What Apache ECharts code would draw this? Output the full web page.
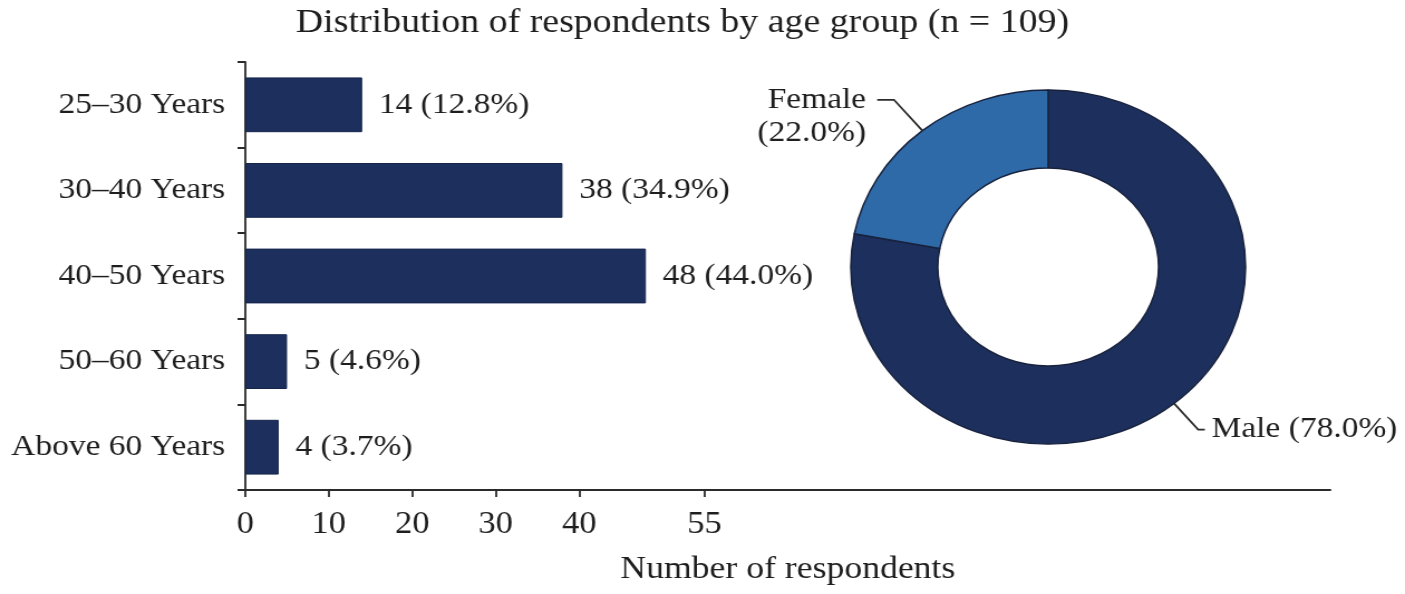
<!DOCTYPE html>
<html>
<head>
<meta charset="utf-8">
<script src="https://cdn.jsdelivr.net/npm/echarts@6/dist/echarts.min.js"></script>
<style>
  html, body { margin: 0; padding: 0; background: #fff; overflow: hidden; }
  /* The figure is laid out on a 1260px-wide canvas and widened to fill the 1405px page */
  #chart { width: 1260px; height: 594px; transform: scaleX(1.11508); transform-origin: 0 0; }
</style>
</head>
<body>
<div id="chart"></div>
<script>
// Age groups (bar chart)
const ageGroups = ['25–30 Years', '30–40 Years', '40–50 Years', '50–60 Years', 'Above 60 Years'];
const ageCounts = [14, 38, 48, 5, 4];
const agePercents = [12.8, 34.9, 44.0, 4.6, 3.7];
const xTickValues = [0, 10, 20, 30, 40, 55];

// Gender split (donut)
const genderNames = ['Male', 'Female'];
const genderPercents = [78.0, 22.0];

const FONT = '"Liberation Serif", "Times New Roman", serif';
const TEXT = '#1e1e1e';
const AXIS = '#2b2b2b';
const NAVY = '#1d305d';
const BLUE = '#2f6aa8';

const chart = echarts.init(document.getElementById('chart'), null, { renderer: 'canvas' });

chart.setOption({
  backgroundColor: '#ffffff',
  animation: false,
  textStyle: { fontFamily: FONT, color: TEXT },
  title: {
    text: 'Distribution of respondents by age group (n = 109)',
    left: 612,
    textAlign: 'center',
    top: 6,
    padding: 0,
    textStyle: { fontFamily: FONT, fontSize: 34, fontWeight: 'normal', color: TEXT }
  },
  grid: { left: 220, right: 67, top: 62, bottom: 104 },
  xAxis: {
    type: 'value',
    min: 0,
    max: 130,
    splitLine: { show: false },
    axisLine: { show: true, lineStyle: { color: AXIS, width: 2 } },
    axisTick: { show: true, customValues: xTickValues, length: 7, lineStyle: { color: AXIS, width: 1.8 } },
    axisLabel: { customValues: xTickValues, fontSize: 31, margin: 19, color: TEXT, fontFamily: FONT },
    name: 'Number of respondents',
    nameLocation: 'middle',
    nameGap: 64,
    nameTextStyle: { fontSize: 32, color: TEXT, fontFamily: FONT }
  },
  yAxis: {
    type: 'category',
    data: ageGroups,
    inverse: true,
    axisLine: { show: true, lineStyle: { color: AXIS, width: 1.8 } },
    axisTick: { show: true, length: 7, lineStyle: { color: AXIS, width: 2 } },
    axisLabel: { fontSize: 30, margin: 18, color: TEXT, fontFamily: FONT }
  },
  series: [
    {
      type: 'bar',
      data: ageCounts,
      barWidth: '64%',
      itemStyle: { color: NAVY, borderColor: '#16264b', borderWidth: 1 },
      label: {
        show: true,
        position: 'right',
        distance: 15,
        fontSize: 30,
        color: TEXT,
        fontFamily: FONT,
        formatter: p => `${p.value} (${agePercents[p.dataIndex].toFixed(1)}%)`
      }
    },
    {
      type: 'pie',
      center: [940, 267],
      radius: [99, 177],
      startAngle: 90,
      clockwise: true,
      itemStyle: { borderColor: '#18223d', borderWidth: 1.5 },
      labelLine: { show: true, lineStyle: { color: AXIS, width: 1.8 } },
      label: {
        show: true,
        fontSize: 30,
        color: TEXT,
        fontFamily: FONT,
        overflow: 'none'
      },
      data: [
        {
          name: genderNames[0],
          value: genderPercents[0],
          itemStyle: { color: NAVY },
          labelLine: { length: 34, length2: 6 },
          label: {
            formatter: p => `${p.name} (${p.value.toFixed(1)}%)`,
            distanceToLabelLine: 6
          }
        },
        {
          name: genderNames[1],
          value: genderPercents[1],
          itemStyle: { color: BLUE },
          labelLine: { length: 40, length2: 15 },
          label: {
            // leading blank line keeps the leader line level with the first text line
            formatter: p => `\n${p.name}\n(${p.value.toFixed(1)}%)`,
            lineHeight: 33,
            align: 'left',
            distanceToLabelLine: 10
          }
        }
      ]
    }
  ]
});
</script>
</body>
</html>
